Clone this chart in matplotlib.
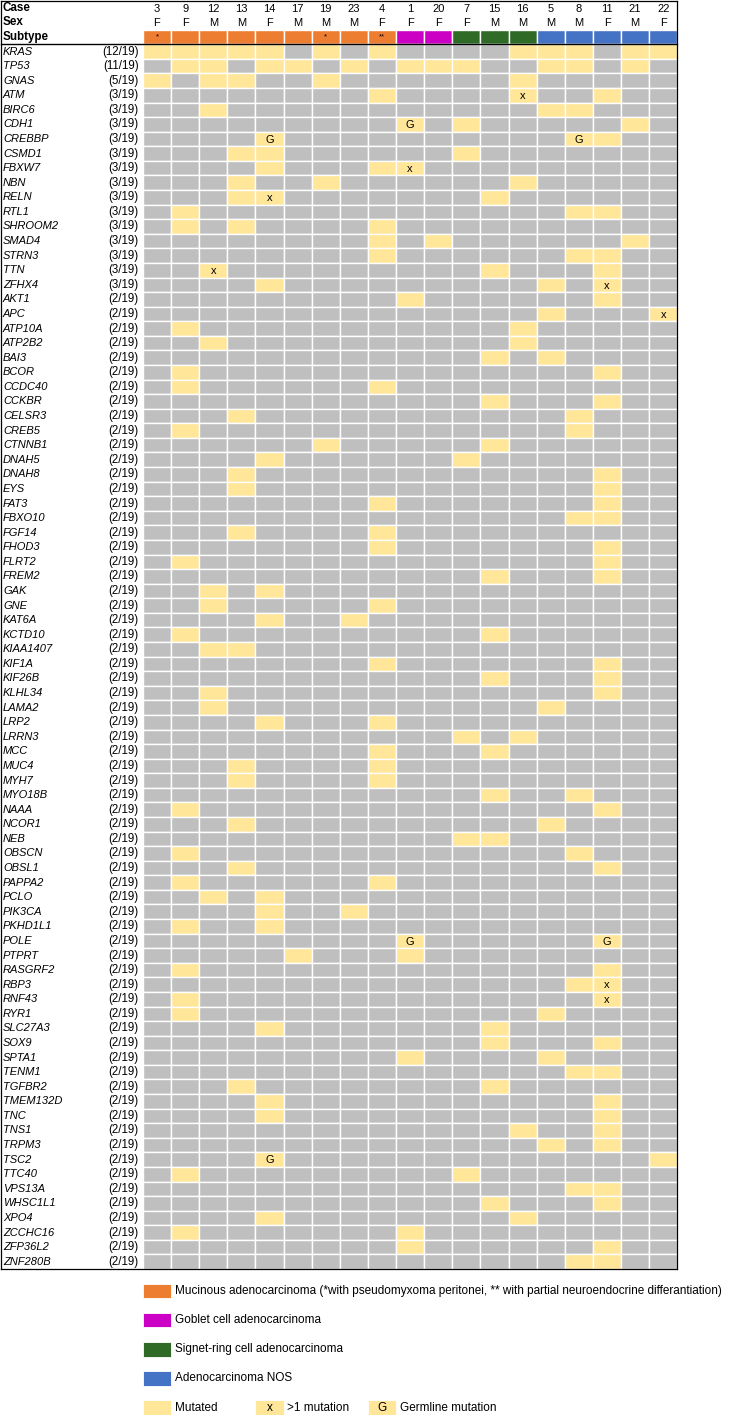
import matplotlib
matplotlib.use("Agg")
import matplotlib.pyplot as plt
from matplotlib.patches import Rectangle

plt.rcParams['font.family'] = ['Liberation Sans', 'DejaVu Sans']

# ---------------- data ----------------
cases = [3, 9, 12, 13, 14, 17, 19, 23, 4, 1, 20, 7, 15, 16, 5, 8, 11, 21, 22]
sexes = ['F', 'F', 'M', 'M', 'F', 'M', 'M', 'M', 'F', 'F', 'F', 'F', 'M', 'M', 'M', 'M', 'F', 'M', 'F']
subtypes = ['Mucinous'] * 9 + ['Goblet'] * 2 + ['Signet'] * 3 + ['NOS'] * 5
subtype_marks = {3: '*', 19: '*', 4: '**'}

genes = ['KRAS', 'TP53', 'GNAS', 'ATM', 'BIRC6', 'CDH1', 'CREBBP', 'CSMD1', 'FBXW7', 'NBN',
         'RELN', 'RTL1', 'SHROOM2', 'SMAD4', 'STRN3', 'TTN', 'ZFHX4', 'AKT1', 'APC', 'ATP10A',
         'ATP2B2', 'BAI3', 'BCOR', 'CCDC40', 'CCKBR', 'CELSR3', 'CREB5', 'CTNNB1', 'DNAH5', 'DNAH8',
         'EYS', 'FAT3', 'FBXO10', 'FGF14', 'FHOD3', 'FLRT2', 'FREM2', 'GAK', 'GNE', 'KAT6A',
         'KCTD10', 'KIAA1407', 'KIF1A', 'KIF26B', 'KLHL34', 'LAMA2', 'LRP2', 'LRRN3', 'MCC', 'MUC4',
         'MYH7', 'MYO18B', 'NAAA', 'NCOR1', 'NEB', 'OBSCN', 'OBSL1', 'PAPPA2', 'PCLO', 'PIK3CA',
         'PKHD1L1', 'POLE', 'PTPRT', 'RASGRF2', 'RBP3', 'RNF43', 'RYR1', 'SLC27A3', 'SOX9', 'SPTA1',
         'TENM1', 'TGFBR2', 'TMEM132D', 'TNC', 'TNS1', 'TRPM3', 'TSC2', 'TTC40', 'VPS13A', 'WHSC1L1',
         'XPO4', 'ZCCHC16', 'ZFP36L2', 'ZNF280B']

mutated = [
    [3, 9, 12, 13, 14, 19, 4, 16, 5, 8, 21, 22],   # KRAS
    [9, 12, 14, 17, 23, 1, 20, 7, 5, 8, 21],       # TP53
    [3, 12, 13, 19, 16],                           # GNAS
    [4, 16, 11], [12, 5, 8], [1, 7, 21], [14, 8, 11], [13, 14, 7], [14, 4, 1],
    [13, 19, 16], [13, 14, 15], [9, 8, 11], [9, 13, 4], [4, 20, 21], [4, 8, 11],
    [12, 15, 11], [14, 5, 11],
    [1, 11], [5, 22], [9, 16], [12, 16], [15, 5], [9, 11], [9, 4], [15, 11], [13, 8],
    [9, 8], [19, 15], [14, 7], [13, 11], [13, 11], [4, 11], [8, 11], [13, 4], [4, 11],
    [9, 11], [15, 11], [12, 14], [12, 4], [14, 23], [9, 15], [12, 13], [4, 11], [15, 11],
    [12, 11], [12, 5], [14, 4], [7, 16], [4, 15], [13, 4], [13, 4], [15, 8], [9, 11],
    [13, 5], [7, 15], [9, 8], [13, 11], [9, 4], [12, 14], [14, 23], [9, 14], [1, 11],
    [17, 1], [9, 11], [8, 11], [9, 11], [9, 5], [14, 15], [15, 11], [1, 5], [8, 11],
    [13, 15], [14, 11], [14, 11], [16, 11], [5, 11], [14, 22], [9, 7], [8, 11], [15, 11],
    [14, 16], [9, 1], [1, 11], [8, 11],
]

multi_mutation = [('ATM', 16), ('FBXW7', 1), ('RELN', 14), ('TTN', 12), ('ZFHX4', 11),
                  ('APC', 22), ('RBP3', 11), ('RNF43', 11)]
germline = [('CDH1', 1), ('CREBBP', 14), ('CREBBP', 8), ('POLE', 1), ('POLE', 11), ('TSC2', 14)]

subtype_colors = {'Mucinous': '#ED7D31', 'Goblet': '#CC00C4', 'Signet': '#2F6B27', 'NOS': '#4472C4'}
legend_labels = [
    ('Mucinous', 'Mucinous adenocarcinoma (*with pseudomyxoma peritonei, ** with partial neuroendocrine differantiation)'),
    ('Goblet', 'Goblet cell adenocarcinoma'),
    ('Signet', 'Signet-ring cell adenocarcinoma'),
    ('NOS', 'Adenocarcinoma NOS'),
]
YELLOW = '#FFE699'
GREY = '#BFBFBF'

# ---------------- layout ----------------
W, H = 730, 1415
fig = plt.figure(figsize=(W / 100, H / 100), dpi=100)

col_px = 28.15
label_px = 142.5
n_rows = 3 + len(genes)
table_bottom_px = 1269.0
row_px = table_bottom_px / n_rows
xmin = -label_px / col_px
ncol = len(cases)

left_f = 0.5 / W
right_f = (label_px + ncol * col_px) / W
ax = fig.add_axes([left_f, 1 - table_bottom_px / H, right_f - left_f, (table_bottom_px - 0.5) / H])
ax.set_xlim(xmin, ncol)
ax.set_ylim(n_rows, 0)
ax.set_xticks([])
ax.set_yticks([])
for s in ax.spines.values():
    s.set_color('black')
    s.set_linewidth(0.9)

FS_GENE = 8.0
FS_CNT = 8.3
FS_HEAD = 8.0
FS_LEG = 8.5
lab_x = xmin + 2.5 / col_px
cnt_x = -4.5 / col_px

# header
for k, t in enumerate(['Case', 'Sex', 'Subtype']):
    ax.text(lab_x, k + 0.5, t, fontsize=8.4, fontweight='bold', va='center', ha='left')
for j, (c, s, st) in enumerate(zip(cases, sexes, subtypes)):
    ax.text(j + 0.5, 0.55, str(c), fontsize=FS_HEAD, ha='center', va='center')
    ax.text(j + 0.5, 1.55, s, fontsize=FS_HEAD, ha='center', va='center')
    ax.add_patch(Rectangle((j, 2), 1, 1, facecolor=subtype_colors[st], edgecolor='white', linewidth=1.0))
    if c in subtype_marks:
        ax.text(j + 0.5, 2.5, subtype_marks[c], fontsize=5.5, ha='center', va='center')
ax.plot([xmin, ncol], [3, 3], color='black', linewidth=1.0, clip_on=False)

multi_set = set(multi_mutation)
germ_set = set(germline)
for i, g in enumerate(genes):
    y = 3 + i
    muts = mutated[i]
    ax.text(lab_x, y + 0.5, g, fontsize=FS_GENE, style='italic', ha='left', va='center')
    ax.text(cnt_x, y + 0.5, f'({len(muts)}/{ncol})', fontsize=FS_CNT, ha='right', va='center')
    for j, c in enumerate(cases):
        fc = YELLOW if c in muts else GREY
        ax.add_patch(Rectangle((j, y), 1, 1, facecolor=fc, edgecolor='white', linewidth=1.0))
        if (g, c) in multi_set:
            ax.text(j + 0.5, y + 0.55, 'x', fontsize=FS_HEAD, ha='center', va='center')
        if (g, c) in germ_set:
            ax.text(j + 0.5, y + 0.55, 'G', fontsize=FS_HEAD, ha='center', va='center')

# ---------------- legend ----------------
lax = fig.add_axes([left_f, 0, right_f - left_f, 1 - table_bottom_px / H])
leg_rows = (H - table_bottom_px) / row_px
lax.set_xlim(xmin, ncol)
lax.set_ylim(leg_rows, 0)
lax.axis('off')
txt_off = 3.5 / col_px
for k, (key, label) in enumerate(legend_labels):
    y = 1 + 2 * k
    lax.add_patch(Rectangle((0, y), 1, 1, facecolor=subtype_colors[key], edgecolor='white', linewidth=0.6))
    lax.text(1 + txt_off, y + 0.5, label, fontsize=FS_LEG, ha='left', va='center')
y = 9
legend_marks = [(0, '', 'Mutated'), (4, 'x', '>1 mutation'), (8, 'G', 'Germline mutation')]
for xc, mark, label in legend_marks:
    lax.add_patch(Rectangle((xc, y), 1, 1, facecolor=YELLOW, edgecolor='white', linewidth=0.6))
    if mark:
        lax.text(xc + 0.5, y + 0.55, mark, fontsize=FS_LEG, ha='center', va='center')
    lax.text(xc + 1 + txt_off, y + 0.5, label, fontsize=FS_LEG, ha='left', va='center')

fig.savefig('out.png', dpi=100)
